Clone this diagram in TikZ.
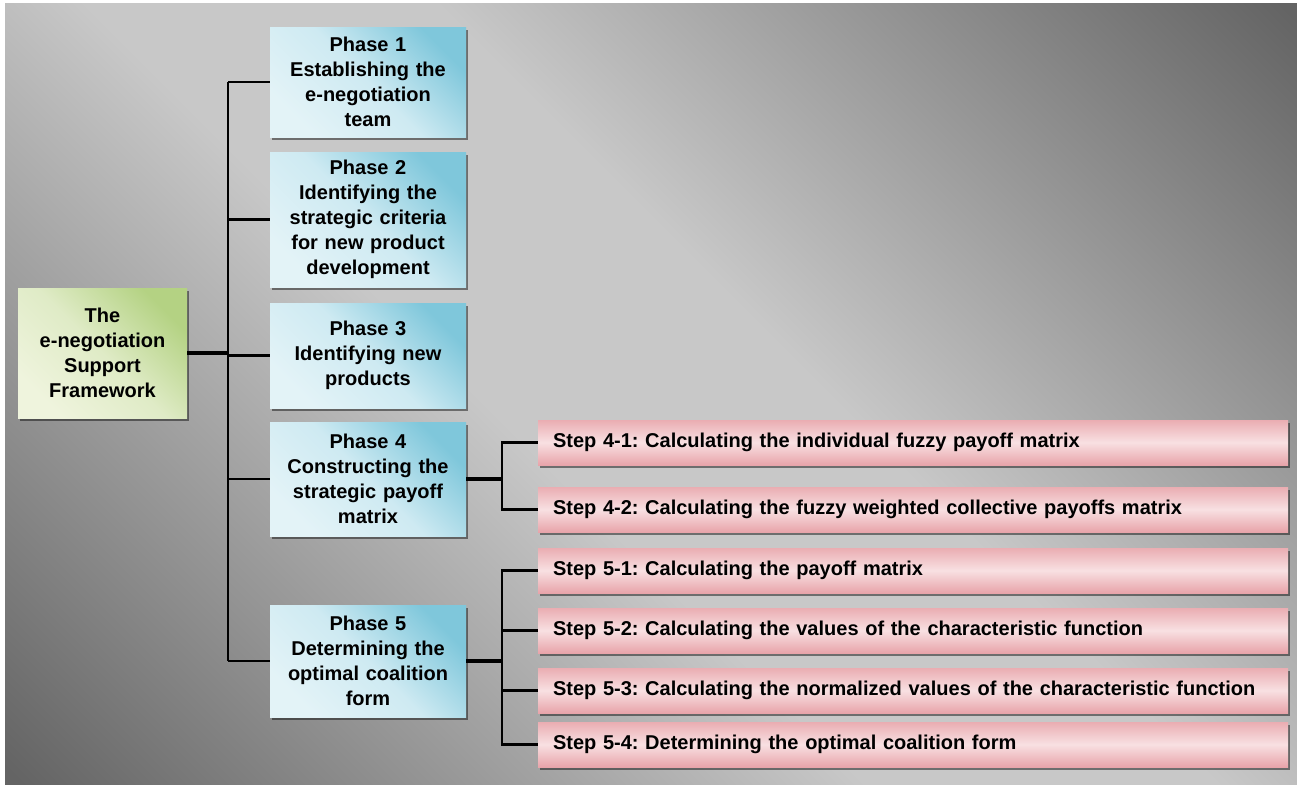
\documentclass[tikz,border=0pt]{standalone}
\usepackage{fontspec}
\setmainfont{Liberation Sans}
\usetikzlibrary{positioning, shadows}
\frenchspacing

\definecolor{bglight}{HTML}{C8C8C8}
\definecolor{bgdark}{HTML}{646464}
\definecolor{rootdark}{HTML}{B4D283}
\definecolor{rootmid}{HTML}{DFEBC6}
\definecolor{rootlight}{HTML}{EFF4DD}
\definecolor{phasedark}{HTML}{7FC7DB}
\definecolor{phasemid}{HTML}{CEEAF2}
\definecolor{phaselight}{HTML}{E3F3F7}
\definecolor{steptop}{HTML}{EAADB2}
\definecolor{stepmid}{HTML}{F8E0E2}
\definecolor{stepbot}{HTML}{E8A4AA}

% grey backdrop, light along the falling diagonal
\pgfdeclareverticalshading{panelbg}{100bp}{color(0bp)=(bgdark); color(15bp)=(bgdark);
  color(44bp)=(bglight); color(56bp)=(bglight); color(85bp)=(bgdark); color(100bp)=(bgdark)}

\tikzset{
  box/.style={inner xsep=0pt, inner ysep=0pt, align=center,
    font=\bfseries\fontsize{20}{25}\selectfont,
    drop shadow={shadow xshift=2pt, shadow yshift=-3pt, fill=black, opacity=.45}},
  root/.style={box, text width=169pt, minimum height=130pt,
    top color=rootdark, bottom color=rootlight, middle color=rootmid, shading angle=-45},
  phase/.style={box, text width=196pt,
    top color=phasedark, bottom color=phaselight, middle color=phasemid, shading angle=-45},
  stepbox/.style={box, text width=720pt, inner xsep=15pt, minimum height=45pt, align=left,
    top color=steptop, bottom color=stepbot, middle color=stepmid},
  link/.style={draw=black, line width=2.4pt},
  stem/.style={draw=black, line width=3.6pt}
}

\begin{document}
\begin{tikzpicture}[x=1pt, y=1pt]
	\useasboundingbox (0,0) rectangle (1297,-785);
	\fill[white] (0,0) rectangle (1297,-785);
	\shade[shading=panelbg, shading angle=-45] (5,-3) rectangle (1297,-784);

	\node[root] (root) at (102.5,-353) {The\\e-negotiation\\Support\\Framework};

	\node[phase, minimum height=110pt] (p1) at (368,-82) {Phase 1\\Establishing the\\e-negotiation\\team};
	\node[phase, minimum height=135pt, below of=p1, node distance=137.5pt] (p2) {Phase 2\\Identifying the\\strategic criteria\\for new product\\development};
	\node[phase, minimum height=105pt, below of=p2, node distance=136pt] (p3) {Phase 3\\Identifying new\\products};
	\node[phase, minimum height=114pt, below of=p3, node distance=123.5pt] (p4) {Phase 4\\Constructing the\\strategic payoff\\matrix};
	\node[phase, minimum height=112pt, below of=p4, node distance=182pt] (p5) {Phase 5\\Determining the\\optimal coalition\\form};

	\node[stepbox] (s41) at (913,-442.5) {Step 4-1: Calculating the individual fuzzy payoff matrix};
	\node[stepbox, below of=s41, node distance=67pt] (s42) {Step 4-2: Calculating the fuzzy weighted collective payoffs matrix};
	\node[stepbox, below of=s42, node distance=61pt] (s51) {Step 5-1: Calculating the payoff matrix};
	\node[stepbox, below of=s51, node distance=60pt] (s52) {Step 5-2: Calculating the values of the characteristic function};
	\node[stepbox, below of=s52, node distance=60pt] (s53) {Step 5-3: Calculating the normalized values of the characteristic function};
	\node[stepbox, below of=s53, node distance=54pt] (s54) {Step 5-4: Determining the optimal coalition form};

	\coordinate (trunk) at (228,0);
	\coordinate (fork) at (502,0);

	% framework -> phases
	\draw[stem] (root.east) -- (trunk |- root.east);
	\draw[link] (trunk |- p1.west) -- (trunk |- p5.west);
	\foreach \p in {p1,p2,p3,p4,p5}
		\draw[link] (trunk |- \p.west) -- (\p.west);

	% phases -> steps
	\draw[stem] (p4.east) -- (fork |- p4.east);
	\foreach \s in {s41,s42}
		\draw[link] (\s.west) -| (fork |- p4.east);
	\draw[stem] (p5.east) -- (fork |- p5.east);
	\foreach \s in {s51,s52,s53,s54}
		\draw[link] (\s.west) -| (fork |- p5.east);
\end{tikzpicture}
\end{document}
